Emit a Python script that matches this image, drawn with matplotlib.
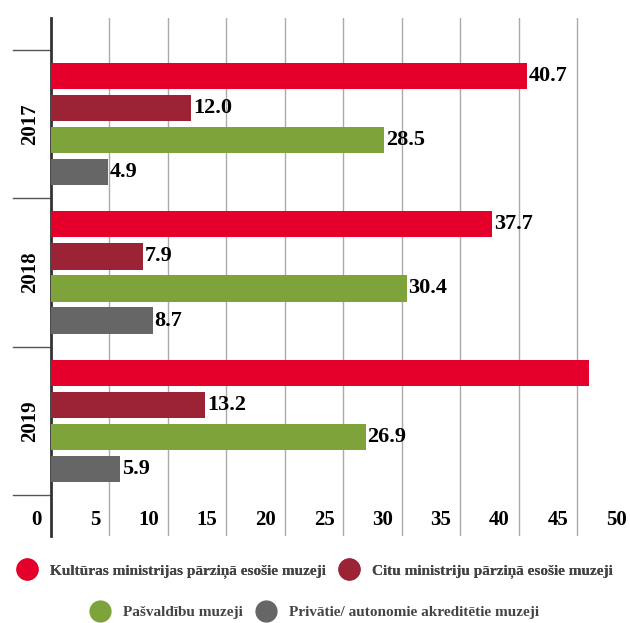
import numpy as np
import matplotlib.pyplot as plt
import matplotlib.transforms as mtransforms
from matplotlib.lines import Line2D

years = ['2017', '2018', '2019']
series = ['Kultūras ministrijas pārziņā esošie muzeji',
          'Citu ministriju pārziņā esošie muzeji',
          'Pašvaldību muzeji',
          'Privātie/ autonomie akreditētie muzeji']
colors = ['#E4002B', '#9B2335', '#7DA33A', '#666666']
values = [
    [40.7, 37.7, 46.0],
    [12.0, 7.9, 13.2],
    [28.5, 30.4, 26.9],
    [4.9, 8.7, 5.9],
]
labels = [
    ['40.7', '37.7', None],
    ['12.0', '7.9', '13.2'],
    ['28.5', '30.4', '26.9'],
    ['4.9', '8.7', '5.9'],
]
xticks = [0, 5, 10, 15, 20, 25, 30, 35, 40, 45, 50]

plt.rcParams['font.family'] = ['Liberation Serif', 'DejaVu Serif']

fig = plt.figure(figsize=(6.3, 6.23), dpi=100)
ax = fig.add_axes([51 / 630, (623 - 536) / 623, 579 / 630, (536 - 18) / 623])

ypos = np.arange(len(years))
bar_h = 0.176
step = 0.216
offsets = [-1.5 * step, -0.5 * step, 0.5 * step, 1.5 * step]

for i in range(len(series)):
    ax.barh(ypos + offsets[i], values[i], height=bar_h, color=colors[i], zorder=3)
    for j in range(len(years)):
        if labels[i][j]:
            ax.text(values[i][j] + 0.15, ypos[j] + offsets[i], labels[i][j],
                    va='center', ha='left', fontsize=16, fontweight='bold', zorder=4)

ax.set_xlim(0, 49.5)
ax.set_ylim(2.777, -0.716)

for v in xticks[1:-1]:
    ax.axvline(v, color='#aaaaaa', lw=1, zorder=1)

for s in ['top', 'right', 'bottom']:
    ax.spines[s].set_visible(False)
ax.spines['left'].set_color('#333333')
ax.spines['left'].set_linewidth(2)
ax.set_xticks([])
ax.set_yticks([])

# tick labels sit just left of each gridline, inside the plot area
tr = mtransforms.blended_transform_factory(ax.transData, ax.transAxes)
off = mtransforms.ScaledTranslation(-9 / 100, 0, fig.dpi_scale_trans)
for v in xticks:
    ax.text(v, 0.03, str(v), transform=tr + off, ha='right', va='center',
            fontsize=15, fontweight='bold', clip_on=False)

# category separators on the left
tr2 = mtransforms.blended_transform_factory(ax.transAxes, ax.transData)
for b in [-0.5, 0.5, 1.5, 2.5]:
    ax.plot([-38 / 579, 0], [b, b], transform=tr2, color='#555555', lw=1, clip_on=False)

for j, y in enumerate(years):
    ax.text(-21 / 579, ypos[j], y, transform=tr2, rotation=90, ha='center', va='center',
            fontsize=15, fontweight='bold')

def handle(c):
    return Line2D([], [], marker='o', ls='', markersize=15, markerfacecolor=c, markeredgecolor=c)

leg1 = fig.legend([handle(colors[0]), handle(colors[1])], series[:2], loc='center',
                  bbox_to_anchor=(0.5, 1 - 571 / 623), ncol=2, frameon=False,
                  prop={'size': 11, 'weight': 'bold'}, labelcolor='#444444',
                  handletextpad=0.9, columnspacing=0.9, handlelength=1.2)
fig.add_artist(leg1)
fig.legend([handle(colors[2]), handle(colors[3])], series[2:], loc='center',
           bbox_to_anchor=(0.5, 1 - 612 / 623), ncol=2, frameon=False,
           prop={'size': 11, 'weight': 'bold'}, labelcolor='#444444',
           handletextpad=0.9, columnspacing=0.9, handlelength=1.2)

fig.savefig('out.png', dpi=100)
